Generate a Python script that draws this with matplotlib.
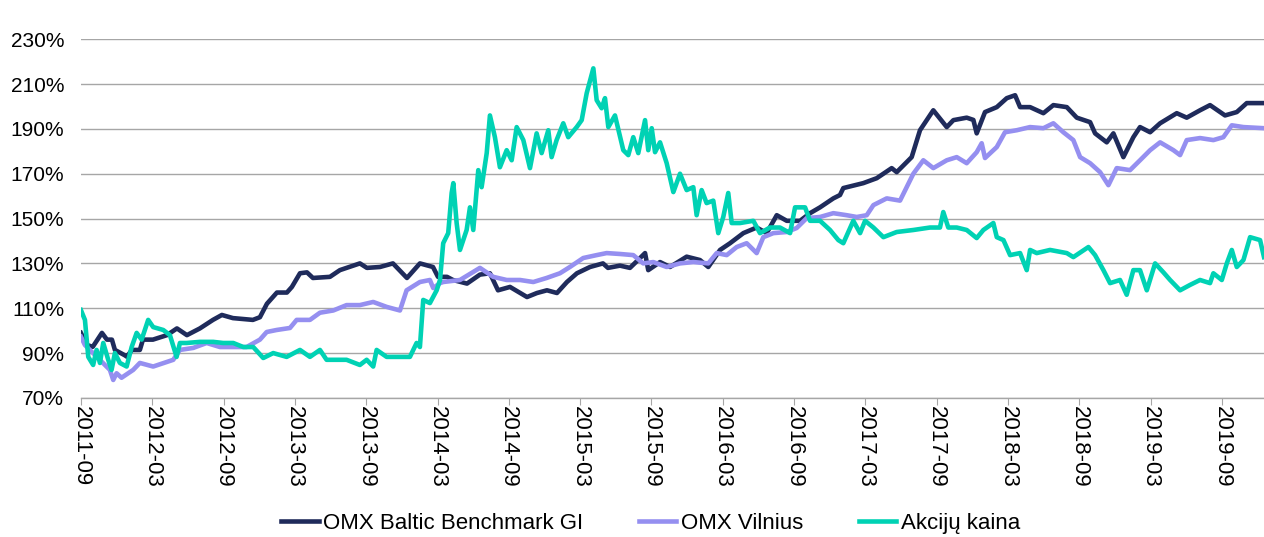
import matplotlib
matplotlib.use("Agg")
import matplotlib.pyplot as plt

plt.rcParams['font.family'] = ['Liberation Sans', 'DejaVu Sans']

# x = months since 2011-09
tick_labels = ['2011-09', '2012-03', '2012-09', '2013-03', '2013-09', '2014-03',
               '2014-09', '2015-03', '2015-09', '2016-03', '2016-09', '2017-03',
               '2017-09', '2018-03', '2018-09', '2019-03', '2019-09']
tick_months = [0, 6, 12, 18, 24, 30, 36, 42, 48, 54, 60, 66, 72, 78, 84, 90, 96]

baltic_m = [0.0, 0.5, 1.0, 1.77, 2.19, 2.61, 2.86, 3.70, 3.87, 4.29, 4.96, 5.22, 6.06,
            7.24, 8.08, 8.92, 10.01, 11.11, 11.86, 12.79, 14.47, 15.06, 15.65, 16.49,
            17.33, 17.75, 18.43, 19.02, 19.52, 20.95, 21.79, 23.47, 24.06, 25.16, 26.25,
            27.43, 28.52, 29.62, 30.04, 30.80, 31.30, 32.48, 33.57, 34.41, 35.09, 36.10,
            37.53, 38.37, 39.21, 40.05, 40.89, 41.73, 42.83, 43.92, 44.34, 45.35, 46.19,
            46.87, 47.46, 47.73, 48.72, 49.56, 50.96, 52.08, 52.78, 53.77, 54.61, 55.73,
            56.85, 57.69, 58.54, 59.38, 60.50, 61.34, 62.18, 63.30, 63.86, 64.14, 65.82,
            66.95, 68.21, 68.63, 69.89, 70.59, 71.71, 72.84, 73.40, 74.52, 75.08, 75.36,
            76.06, 77.05, 77.89, 78.59, 79.01, 79.85, 80.97, 81.81, 82.94, 83.78, 84.90,
            85.32, 86.30, 86.86, 87.70, 88.54, 89.10, 89.95, 90.79, 92.19, 93.03, 94.15,
            94.99, 96.25, 97.24, 98.08, 99.53]
baltic_v = [99, 93.6, 92.8, 99, 96, 96, 91.4, 89, 88.4, 91.4, 91.4, 96, 96,
            98, 101, 98, 101, 104.8, 107, 105.6, 104.8, 106, 112, 117,
            117, 119.5, 125.6, 126, 123.5, 124, 127, 130, 128, 128.4, 130,
            123.5, 130, 128.4, 124, 124, 122.6, 121, 125, 125.6, 118, 119.5,
            115, 116.8, 118, 116.8, 121.7, 125.6, 128.4, 130, 128, 129, 128,
            131.5, 134.6, 127, 130.6, 128.4, 133, 131.5, 128.4, 136, 139, 143.5,
            146, 143.5, 151.5, 149, 149, 152.4, 155, 159, 160.5, 163.6, 165.8,
            168, 172.5, 170.7, 177.4, 189.4, 198.3, 190.8, 193.9, 195, 194, 188,
            197.5, 199.7, 203.7, 205, 199.7, 199.7, 197, 200.6, 199.7, 195, 193,
            188, 184, 188, 177.4, 186.3, 190.8, 188.5, 192.5, 197, 195, 198.3,
            200.6, 196, 197.5, 201.5, 201.5]

vilnius_m = [0.0, 0.34, 2.44, 2.72, 3.00, 3.42, 4.40, 4.96, 6.08, 7.21, 7.77, 8.33,
             9.45, 10.58, 11.70, 12.82, 13.94, 15.06, 15.63, 16.47, 17.59, 18.15, 19.27,
             20.11, 21.23, 22.35, 23.47, 24.59, 25.72, 26.84, 27.40, 28.52, 29.36, 29.64,
             30.21, 30.48, 31.89, 33.57, 34.69, 35.82, 36.94, 38.06, 39.18, 40.30, 41.14,
             42.26, 43.39, 44.23, 45.35, 46.47, 47.31, 48.15, 49.28, 50.40, 51.52, 52.78,
             53.49, 54.33, 55.17, 56.01, 56.85, 57.41, 58.25, 59.38, 60.22, 61.06, 62.18,
             63.30, 64.42, 65.27, 66.11, 66.67, 67.79, 68.91, 70.03, 70.87, 71.71, 72.84,
             73.68, 74.52, 75.36, 75.78, 76.06, 77.05, 77.74, 78.73, 79.85, 80.97, 81.81,
             82.65, 83.49, 84.06, 84.90, 85.74, 86.44, 87.14, 88.26, 89.10, 89.95, 90.79,
             91.91, 92.47, 93.03, 94.15, 95.27, 96.11, 96.82, 97.80, 99.53]
vilnius_v = [97.3, 93.6, 82.5, 78, 81, 79, 82.5, 85.6, 84, 86, 87, 91.4,
             92.3, 94.5, 92.7, 92.7, 92.7, 96, 99.4, 100.3, 101.2, 104.8, 104.8,
             108, 109, 111.4, 111.4, 112.8, 110.6, 109, 118, 121.7, 122.6, 119,
             121.2, 121.7, 122.6, 128, 124, 122.6, 122.6, 121.7, 123.5, 125.6, 128.4,
             132.4, 133.7, 134.6, 134.2, 133.7, 130, 130.6, 128.4, 130, 130.6, 130,
             134.6, 133.7, 137.3, 139, 134.6, 141.7, 143.5, 144, 145.8, 150.2, 150.7,
             152.4, 151.5, 150.7, 151.5, 156, 159, 158, 170, 176, 172.5, 176,
             177.4, 174.7, 179.6, 183.6, 177, 181.9, 188.5, 189.4, 190.8, 190.3, 192.5,
             188.5, 185, 177.4, 174.7, 170.7, 164.9, 172.5, 171.6, 176, 180.5, 184,
             180.5, 178.3, 185, 185.9, 185, 186.3, 191.6, 190.8, 190.3]

price_m = [0.0, 0.34, 0.62, 1.03, 1.32, 1.60, 1.88, 2.30, 2.58, 2.86, 3.28, 3.85, 4.27,
           4.69, 5.11, 5.66, 6.08, 6.93, 7.49, 8.05, 8.33, 8.89, 10.01, 11.13, 11.97,
           12.82, 13.66, 14.50, 15.34, 16.18, 17.31, 18.43, 19.27, 20.11, 20.67, 22.35,
           23.47, 24.04, 24.59, 24.88, 25.72, 26.84, 27.68, 28.24, 28.52, 28.80, 29.36,
           29.93, 30.21, 30.48, 30.90, 31.19, 31.33, 31.61, 31.89, 32.45, 32.73, 33.01,
           33.43, 33.71, 34.14, 34.41, 34.83, 35.25, 35.82, 36.24, 36.66, 37.22, 37.78,
           38.34, 38.76, 39.32, 39.60, 40.02, 40.58, 41.00, 41.71, 42.13, 42.55, 43.11,
           43.39, 43.81, 44.09, 44.37, 44.93, 45.63, 46.05, 46.47, 46.89, 47.46, 47.73,
           48.02, 48.30, 48.72, 49.28, 49.84, 50.40, 50.96, 51.52, 51.80, 52.22, 52.64,
           53.20, 53.62, 54.04, 54.46, 54.75, 55.45, 56.57, 57.13, 57.97, 58.81, 59.66,
           60.08, 60.92, 61.34, 62.18, 63.02, 63.72, 64.14, 64.98, 65.55, 65.97, 66.67,
           67.51, 68.63, 70.03, 71.43, 72.27, 72.55, 72.97, 73.68, 74.52, 75.36, 75.92,
           76.76, 77.05, 77.61, 78.17, 79.01, 79.57, 79.85, 80.41, 81.53, 82.94, 83.49,
           84.76, 85.32, 86.02, 86.58, 87.42, 87.98, 88.54, 89.10, 89.67, 90.37, 91.07,
           91.63, 92.47, 93.31, 94.15, 94.99, 95.27, 95.98, 96.40, 96.82, 97.24, 97.80,
           98.36, 99.20, 99.53]
price_v = [109.2, 104.8, 88.3, 84.7, 91.4, 85.6, 94.5, 87, 82.5, 90, 85.6, 84, 92.7,
           99, 96, 104.8, 101.6, 100.3, 98, 88.3, 94.5, 94.5, 95, 95, 94.5,
           94.5, 92.7, 92.7, 87.8, 90, 88.3, 91.4, 88.3, 91.4, 87, 87,
           84.7, 87, 84, 91.4, 88.3, 88.3, 88.3, 94.5, 92.7, 113.7, 112.3,
           118, 122.6, 139, 143.5, 161.4, 165.8, 148, 136, 144.9, 155, 144.9,
           171.6, 164, 179.2, 196, 186.3, 172.9, 180.5, 176, 190.8, 185, 172.5,
           188, 179.2, 189.4, 177.4, 185, 192.5, 186.3, 190.8, 193.9, 205.9, 217,
           202.8, 199.2, 203.7, 190.8, 196, 180.5, 178.3, 186.3, 179.2, 193.9, 180.5,
           190.3, 179.6, 184, 174.7, 161.8, 170, 162.7, 164, 151.5, 162.7, 156.9,
           158, 143.5, 150.7, 161.4, 148, 148, 149, 143.5, 146, 146, 143.5,
           155, 155, 149, 149, 144.9, 140.4, 139, 149, 143.5, 149, 146,
           141.7, 144, 144.9, 146, 146, 152.9, 146, 146, 144.9, 141.3, 144.9,
           148, 141.7, 140.4, 133.7, 134.6, 127, 136, 134.6, 136, 134.6, 132.8,
           137.3, 133.7, 127, 121.2, 122.6, 116, 127, 127, 118, 130, 126,
           122.6, 118, 120.4, 122.6, 121.2, 125.6, 122.6, 130, 136, 128.4, 131.5,
           141.7, 140.4, 132.8]

fig = plt.figure(figsize=(12.64, 5.37), dpi=100)
ax = fig.add_axes([0.064, 0.259, 0.936, 0.668])

ax.plot(baltic_m, baltic_v, color='#1f2b5b', lw=3.3, label='OMX Baltic Benchmark GI')
ax.plot(vilnius_m, vilnius_v, color='#958ff0', lw=3.3, label='OMX Vilnius')
ax.plot(price_m, price_v, color='#00d2b4', lw=3.3, label='Akcijų kaina')

ax.set_xlim(0, 99.53)
ax.set_ylim(70, 230)
ax.set_yticks(range(70, 231, 20))
ax.set_yticklabels([f'{t}%' for t in range(70, 231, 20)], fontsize=15)
ax.set_xticks(tick_months)
ax.set_xticklabels(tick_labels, rotation=270, fontsize=16, va='top', ha='center')

ax.grid(axis='y', color='#a6a6a6', lw=1.0)
ax.set_axisbelow(True)
for s in ['top', 'right', 'left']:
    ax.spines[s].set_visible(False)
ax.spines['bottom'].set_color('#a6a6a6')
ax.spines['bottom'].set_linewidth(1.0)
ax.tick_params(axis='y', length=0, pad=12)
ax.tick_params(axis='x', length=5, color='#a6a6a6', pad=1)

fig.legend(loc='center', bbox_to_anchor=(0.5146, 0.026), ncol=3, frameon=False,
           fontsize=16, handlelength=1.7, handletextpad=0.2, columnspacing=2.5)

fig.savefig('out.png', dpi=100)
